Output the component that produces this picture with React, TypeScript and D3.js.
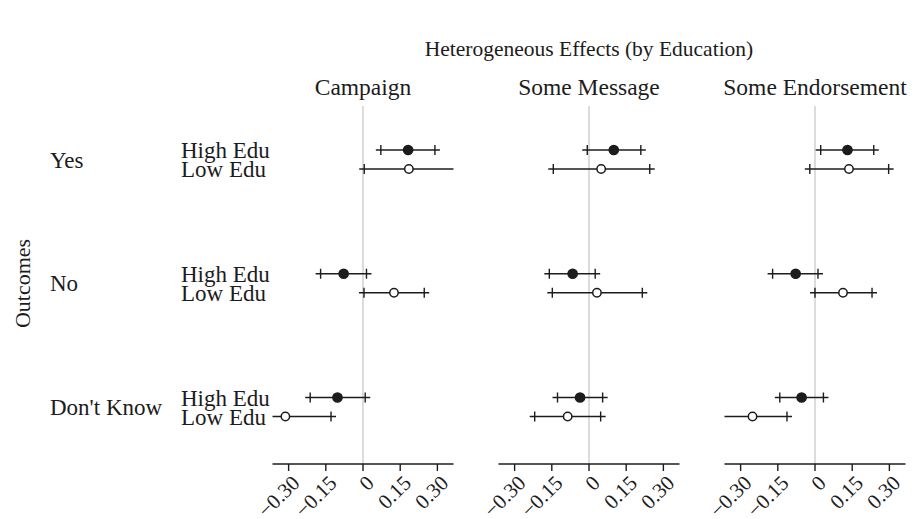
import React from "react";
import * as d3 from "d3";

// Panels (treatments), outcome rows and education groups
const panels = ["Campaign", "Some Message", "Some Endorsement"];
const outcomes = ["Yes", "No", "Don't Know"];
const groups = ["High Edu", "Low Edu"];
const tickValues = [-0.3, -0.15, 0, 0.15, 0.3];
const tickLabels = ["\u22120.30", "\u22120.15", "0", "0.15", "0.30"];

// Point estimates [panel][outcome][group]
const estimates = [
  [[0.182, 0.185], [-0.078, 0.125], [-0.103, -0.313]],
  [[0.100, 0.049], [-0.066, 0.032], [-0.036, -0.086]],
  [[0.131, 0.137], [-0.078, 0.113], [-0.054, -0.252]],
];
// Lower confidence bounds
const lowers = [
  [[0.072, 0.005], [-0.171, 0.004], [-0.213, -0.497]],
  [[-0.007, -0.144], [-0.160, -0.148], [-0.127, -0.219]],
  [[0.023, -0.021], [-0.171, 0.000], [-0.142, -0.391]],
];
// Upper confidence bounds
const uppers = [
  [[0.290, 0.372], [0.014, 0.247], [0.009, -0.129]],
  [[0.209, 0.245], [0.025, 0.215], [0.055, 0.047]],
  [[0.237, 0.297], [0.012, 0.230], [0.034, -0.113]],
];

const W = 914;
const H = 519;
const FONT = "'Liberation Serif', 'Times New Roman', Times, serif";
const INK = "#1c1c1c";

const plotTop = 106;
const axisY = 464;
const panelLeft0 = 272.5;
const panelStep = 226;
const panelWidth = 181;
const domain: [number, number] = [-0.365, 0.365];

export default function App() {
  const yOutcome = d3
    .scalePoint<string>()
    .domain(outcomes)
    .range([159.5, 407]);
  const yGroup = d3
    .scalePoint<string>()
    .domain(groups)
    .range([-9.5, 9.5]);

  const cap = 5;

  return (
    <svg
      width={W}
      height={H}
      style={{ position: "absolute", left: 0, top: 0, background: "#fff" }}
      fontFamily={FONT}
    >
      <defs>
        {panels.map((p, i) => {
          const x0 = panelLeft0 + i * panelStep;
          return (
            <clipPath id={`clip-${i}`} key={p}>
              <rect x={x0} y={0} width={panelWidth} height={H} />
            </clipPath>
          );
        })}
      </defs>

      <text x={589} y={56} textAnchor="middle" fontSize={21.5} fill={INK}>
        Heterogeneous Effects (by Education)
      </text>

      <text
        transform={`translate(30, 283.5) rotate(-90)`}
        textAnchor="middle"
        fontSize={22}
        fill={INK}
      >
        Outcomes
      </text>

      {outcomes.map((o) => (
        <g key={o}>
          <text
            x={50}
            y={yOutcome(o)!}
            dy="0.35em"
            fontSize={23}
            fill={INK}
          >
            {o}
          </text>
          {groups.map((g) => (
            <text
              key={g}
              x={181}
              y={yOutcome(o)! + yGroup(g)!}
              dy="0.35em"
              fontSize={23}
              fill={INK}
            >
              {g}
            </text>
          ))}
        </g>
      ))}

      {panels.map((p, i) => {
        const x0 = panelLeft0 + i * panelStep;
        const x = d3.scaleLinear().domain(domain).range([x0, x0 + panelWidth]);
        return (
          <g key={p}>
            <text
              x={x(0)}
              y={95}
              textAnchor="middle"
              fontSize={23.5}
              fill={INK}
            >
              {p}
            </text>
            <line
              x1={x(0)}
              x2={x(0)}
              y1={plotTop}
              y2={axisY}
              stroke="#c4c4c4"
              strokeWidth={1.2}
            />
            <g clipPath={`url(#clip-${i})`}>
              {outcomes.map((o, oi) =>
                groups.map((g, gi) => {
                  const y = yOutcome(o)! + yGroup(g)!;
                  const lo = lowers[i][oi][gi];
                  const hi = uppers[i][oi][gi];
                  const est = estimates[i][oi][gi];
                  const filled = gi === 0;
                  return (
                    <g key={o + g}>
                      <line
                        x1={x(lo) - cap}
                        x2={x(hi) + cap}
                        y1={y}
                        y2={y}
                        stroke={INK}
                        strokeWidth={1.4}
                      />
                      {[lo, hi].map((v, k) => (
                        <line
                          key={k}
                          x1={x(v)}
                          x2={x(v)}
                          y1={y - cap}
                          y2={y + cap}
                          stroke={INK}
                          strokeWidth={1.4}
                        />
                      ))}
                      <circle
                        cx={x(est)}
                        cy={y}
                        r={filled ? 4.6 : 4.2}
                        fill={filled ? INK : "#fff"}
                        stroke={INK}
                        strokeWidth={1.5}
                      />
                    </g>
                  );
                })
              )}
            </g>
            <line
              x1={x0}
              x2={x0 + panelWidth}
              y1={axisY}
              y2={axisY}
              stroke={INK}
              strokeWidth={1.4}
            />
            {tickValues.map((t, k) => (
              <g key={t}>
                <line
                  x1={x(t)}
                  x2={x(t)}
                  y1={axisY}
                  y2={axisY + 7}
                  stroke={INK}
                  strokeWidth={1.4}
                />
                <text
                  transform={`translate(${x(t) + 7}, ${axisY + 15}) rotate(-45)`}
                  textAnchor="end"
                  dy="0.35em"
                  fontSize={21}
                  fill={INK}
                >
                  {tickLabels[k]}
                </text>
              </g>
            ))}
          </g>
        );
      })}
    </svg>
  );
}
